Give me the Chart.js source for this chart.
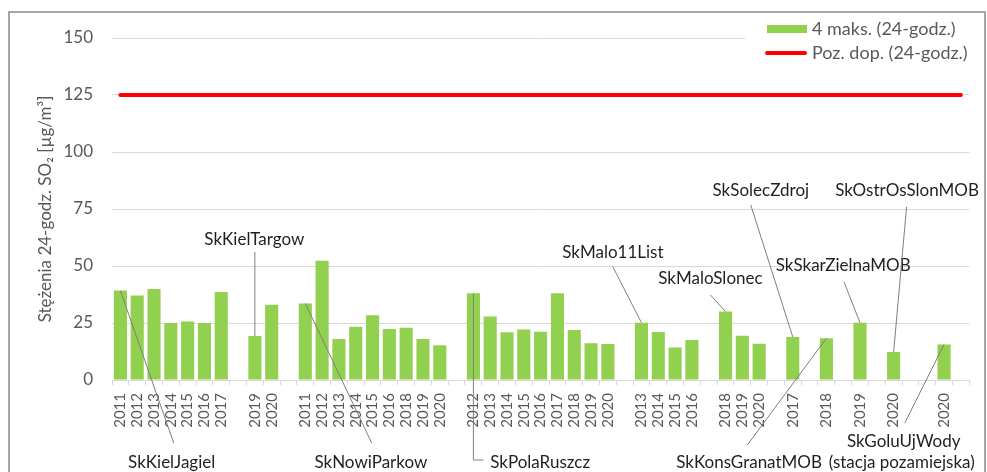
<!DOCTYPE html>
<html><head><meta charset="utf-8">
<script src="https://cdn.jsdelivr.net/npm/chart.js@4"></script>
<style>html,body{margin:0;padding:0;background:#fff}canvas{display:block}</style>
</head><body>
<canvas id="c" width="987" height="472"></canvas>
<script>
// ---- data ----
const categories = ['2011','2012','2013','2014','2015','2016','2017','','2019','2020','',
  '2011','2012','2013','2014','2015','2016','2018','2019','2020','',
  '2012','2013','2014','2015','2016','2017','2018','2019','2020','',
  '2013','2014','2015','2016','',
  '2018','2019','2020','',
  '2017','','2018','','2019','','2020','','','2020',''];
const maxValues = [39.2,37.1,39.9,25.0,25.7,25.0,38.6,null,19.3,33.0,null,
  33.6,52.3,18.0,23.4,28.4,22.4,22.9,18.0,15.2,null,
  38.0,27.8,20.9,22.1,21.2,38.0,21.9,16.1,15.8,null,
  25.1,21.1,14.3,17.5,null,
  30.0,19.4,15.9,null,
  18.9,null,18.3,null,25.1,null,12.3,null,null,15.6,null];
const limitValues = [125,125,125,125,125,125,125,125,125,125,125,125,125,125,125,125,125,
  125,125,125,125,125,125,125,125,125,125,125,125,125,125,125,125,125,
  125,125,125,125,125,125,125,125,125,125,125,125,125,125,125,125,125];
const yTicks = [0,25,50,75,100,125,150];
const seriesNames = ['4 maks. (24-godz.)','Poz. dop. (24-godz.)'];
const stationNames = [['SkKielJagiel'],['SkKielTargow'],['SkNowiParkow'],['SkPolaRuszcz'],
  ['SkMalo11List'],['SkMaloSlonec'],['SkSolecZdroj'],['SkKonsGranatMOB'],
  ['SkSkarZielnaMOB'],['SkOstrOsSlonMOB'],['SkGoluUjWody','(stacja pozamiejska)']];
const stationBarIndex = [0,8,11,21,31,36,40,42,44,46,49];

// ---- annotation layout (data coordinates: [category index, value]) ----
const annoLayout = [
  {text:[3.05,-36], align:'center', path:[[3.17,-27.6]]},
  {text:[7.97,61.4], align:'center', path:[[8.0,56.1]]},
  {text:[14.9,-36], align:'center', path:[[14.95,-27.6]]},
  {text:[22.0,-36], align:'left', path:[[21.59,-35.1],[21.0,-35.1]]},
  {text:[29.3,56.1], align:'center', path:[[29.3,49.6]]},
  {text:[35.1,44.3], align:'center', path:[[35.1,37.3]]},
  {text:[38.1,82.9], align:'center', path:[[37.5,76.8]]},
  {text:[37.4,-36], align:'center', path:[[37.3,-28.5]]},
  {text:[43.0,50.0], align:'center', path:[[43.05,43.0]]},
  {text:[46.8,82.9], align:'center', path:[[46.77,75.9]]},
  {text:[46.6,-26.8], align:'center', path:[[46.66,-18.9]]}
];

const FONT = 'Lato, "Open Sans", sans-serif';
const GREEN = '#92D050';
const RED = '#FF0000';

const decorPlugin = {
  id: 'decor',
  beforeDraw(chart) {
    const ctx = chart.ctx;
    ctx.save();
    ctx.fillStyle = '#fff';
    ctx.fillRect(0, 0, chart.width, chart.height);
    ctx.strokeStyle = '#a6a6a6';
    ctx.lineWidth = 2;
    ctx.strokeRect(9, 12, 976, 480);
    ctx.restore();
  },
  afterDatasetsDraw(chart) {
    const ctx = chart.ctx;
    const xs = chart.scales.x, ys = chart.scales.y;
    const px = (p) => [xs.getPixelForValue(p[0]), ys.getPixelForValue(p[1])];
    ctx.save();
    // leader lines + labels
    ctx.strokeStyle = '#7f7f7f';
    ctx.lineWidth = 1;
    ctx.fillStyle = '#1f1f1f';
    ctx.font = '17px ' + FONT;
    ctx.textBaseline = 'middle';
    annoLayout.forEach((a, i) => {
      const bi = stationBarIndex[i];
      const target = [bi, maxValues[bi]];
      const pts = a.path.concat([target]).map(px);
      ctx.beginPath();
      ctx.moveTo(pts[0][0], pts[0][1]);
      for (let k = 1; k < pts.length; k++) ctx.lineTo(pts[k][0], pts[k][1]);
      ctx.stroke();
      const lines = stationNames[i];
      const tp = px(a.text);
      ctx.textAlign = a.align;
      if (lines.length === 1) {
        ctx.fillText(lines[0], tp[0], tp[1]);
      } else {
        ctx.fillText(lines[0], tp[0], tp[1]);
        ctx.fillText(lines[1], tp[0] - 2, tp[1] + 21);
      }
    });
    // legend
    ctx.fillStyle = '#fff';
    ctx.fillRect(745, 17, 228, 50);
    ctx.font = '18px ' + FONT;
    ctx.textAlign = 'left';
    ctx.fillStyle = GREEN;
    ctx.fillRect(767, 25, 40, 8);
    ctx.strokeStyle = RED;
    ctx.lineWidth = 4;
    ctx.lineCap = 'round';
    ctx.beginPath(); ctx.moveTo(767, 53); ctx.lineTo(805, 53); ctx.stroke();
    ctx.fillStyle = '#595959';
    ctx.fillText(chart.data.datasets[0].label, 812, 29);
    ctx.fillText(chart.data.datasets[1].label, 812, 53);
    ctx.restore();
  }
};

new Chart(document.getElementById('c'), {
  type: 'bar',
  data: {
    labels: categories,
    datasets: [
      {label: seriesNames[0], data: maxValues, backgroundColor: GREEN, barPercentage: 0.78, categoryPercentage: 1.0, order: 2},
      {type: 'line', label: seriesNames[1], data: limitValues, borderColor: RED, borderWidth: 4,
       pointRadius: 0, borderCapStyle: 'round', fill: false, order: 1}
    ]
  },
  options: {
    responsive: false,
    animation: false,
    devicePixelRatio: 1,
    layout: {padding: {left: 0, top: 38, right: 14, bottom: 0}},
    plugins: {legend: {display: false}, tooltip: {enabled: false}},
    scales: {
      x: {
        afterFit(s) { s.height = 92; },
        grid: {display: true, drawOnChartArea: false, drawTicks: true, tickLength: 5, color: '#d9d9d9', offset: true},
        border: {display: true, color: '#d9d9d9', width: 1},
        ticks: {autoSkip: false, minRotation: 90, maxRotation: 90, padding: 8,
                color: '#595959', font: {family: FONT, size: 15}}
      },
      y: {
        min: 0, max: 150,
        afterFit(s) { s.width = 112; },
        afterBuildTicks(s) { s.ticks = yTicks.map(v => ({value: v})); },
        grid: {color: '#d9d9d9', drawTicks: false, lineWidth: 1},
        border: {display: false},
        ticks: {padding: 19, color: '#595959', font: {family: FONT, size: 17}},
        title: {display: true, text: 'Stężenia 24-godz. SO₂ [µg/m³]', color: '#595959',
                font: {family: FONT, size: 17}, padding: {top: 35, bottom: 0}}
      }
    }
  },
  plugins: [decorPlugin]
});
</script>
</body></html>
